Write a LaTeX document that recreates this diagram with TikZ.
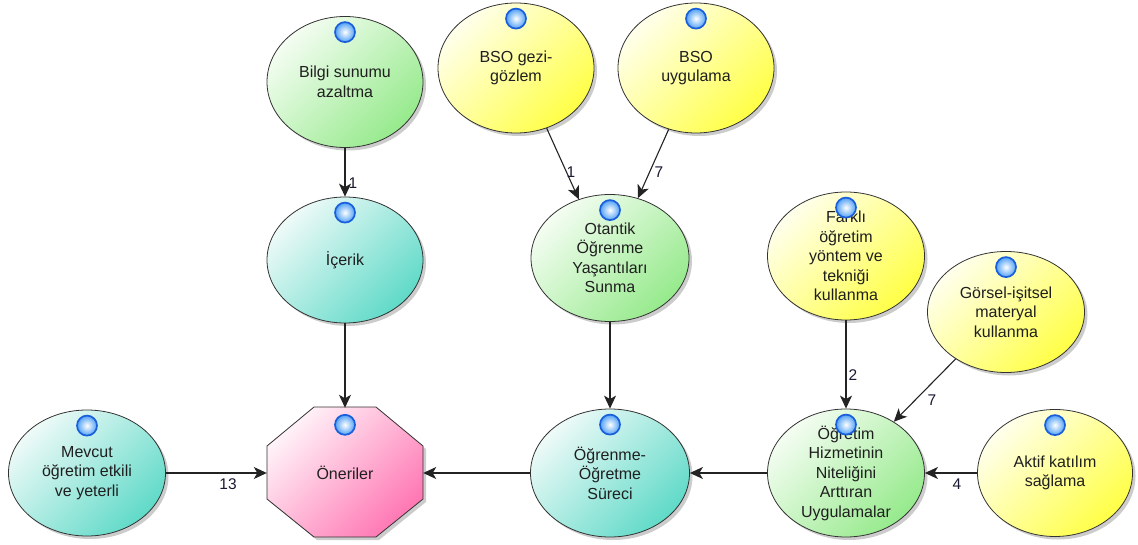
\documentclass[tikz,border=0pt]{standalone}
\usepackage{fontspec}
\setmainfont{Liberation Sans}
\usetikzlibrary{shapes.geometric,arrows.meta,shadows}

\definecolor{grnL}{RGB}{244,253,242}
\definecolor{grnD}{RGB}{150,234,140}
\definecolor{yelL}{RGB}{255,255,236}
\definecolor{yelD}{RGB}{255,255,70}
\definecolor{tealL}{RGB}{238,250,248}
\definecolor{tealD}{RGB}{96,218,200}
\definecolor{pinkL}{RGB}{255,242,248}
\definecolor{pinkD}{RGB}{255,120,180}
\definecolor{bulbD}{RGB}{25,95,220}
\definecolor{bulbM}{RGB}{80,160,245}
\definecolor{lblC}{RGB}{25,25,50}
\definecolor{lineC}{RGB}{35,35,35}

\begin{document}
\begin{tikzpicture}[x=1pt,y=-1pt,
  txt/.style={align=center, font=\fontsize{16}{19.5}\selectfont, text=black!88, inner sep=0pt},
  shad/.style={drop shadow={shadow xshift=3pt, shadow yshift=-3pt, opacity=0.2, fill=black}},
  bub/.style={ellipse, draw=black!80, line width=0.8pt, inner sep=0pt, shad,
     path picture={\node[txt] at (path picture bounding box.center) {#1};}},
  sz/.style 2 args={minimum width=#1pt, minimum height=#2pt},
  gfill/.style={top color=grnL, bottom color=grnD, shading angle=45},
  yfill/.style={top color=yelL, bottom color=yelD, shading angle=45},
  tfill/.style={top color=tealL, bottom color=tealD, shading angle=45},
  pfill/.style={top color=pinkL, bottom color=pinkD, shading angle=45},
  bulbst/.style={circle, minimum size=20pt, inner sep=0pt, draw=bulbD, line width=1.7pt,
     inner color=white, outer color=bulbM},
  conn/.style={draw=lineC, line width=1.1pt, -{Stealth[length=13pt,width=12pt,inset=3.5pt]}},
  lbl/.style={font=\fontsize{15.5}{18}\selectfont, text=lblC, inner sep=0pt}
]
\useasboundingbox[fill=white] (0,0) rectangle (1138,545);

% octagon outline behind the "Öneriler" node
\path[pfill, draw=black!80, line width=0.8pt, shad]
  (314,407) -- (376,407) -- (423,446) -- (423,499) -- (376,537)
  -- (314,537) -- (267,499) -- (267,446) -- cycle;
\node[txt, sz={156}{130}] (oneriler) at (345,473) {Öneriler};

% elliptic nodes
\node[bub={Bilgi sunumu\\azaltma}, gfill, sz={156}{131}] (bilgi) at (345,82) {};
\node[bub={İçerik}, tfill, sz={156}{126}] (icerik) at (345,260) {};
\node[bub={BSO gezi-\\gözlem}, yfill, sz={156}{130}] (bso1) at (516,68) {};
\node[bub={BSO\\uygulama}, yfill, sz={156}{130}] (bso2) at (696,68) {};
\node[bub={Otantik\\Öğrenme\\Yaşantıları\\Sunma}, gfill, sz={158}{127}] (otantik) at (610,258) {};
\node[bub={Farklı\\öğretim\\yöntem ve\\tekniği\\kullanma}, yfill, sz={157}{128}] (farkli) at (846,256) {};
\node[bub={Görsel-işitsel\\materyal\\kullanma}, yfill, sz={157}{121}] (gorsel) at (1006,312) {};
\node[bub={Mevcut\\öğretim etkili\\ve yeterli}, tfill, sz={157}{126}] (mevcut) at (87,473) {};
\node[bub={Öğrenme-\\Öğretme\\Süreci}, tfill, sz={159}{128}] (ogrenme) at (610,473) {};
\node[bub={Öğretim\\Hizmetinin\\Niteliğini\\Arttıran\\Uygulamalar}, gfill, sz={157}{128}] (ogretim) at (846,473) {};
\node[bub={Aktif katılım\\sağlama}, yfill, sz={155}{127}] (aktif) at (1055,473) {};

% markers on top of each node
\node[bulbst] (mb1) at ([yshift=-16pt]bilgi.north) {};
\node[bulbst] (mb2) at ([yshift=-16pt]icerik.north) {};
\node[bulbst] (mb3) at ([yshift=-16pt]bso1.north) {};
\node[bulbst] (mb4) at ([yshift=-16pt]bso2.north) {};
\node[bulbst] (mb5) at ([yshift=-16pt]otantik.north) {};
\node[bulbst] (mb6) at ([yshift=-16pt]farkli.north) {};
\node[bulbst] (mb7) at ([yshift=-16pt]gorsel.north) {};
\node[bulbst] (mb8) at ([yshift=-16pt]mevcut.north) {};
\node[bulbst] (mb9) at ([yshift=-17pt]oneriler.north) {};
\node[bulbst] (mb10) at ([yshift=-16pt]ogrenme.north) {};
\node[bulbst] (mb11) at ([yshift=-16pt]ogretim.north) {};
\node[bulbst] (mb12) at ([yshift=-16pt]aktif.north) {};

% connectors
\draw[conn] (bilgi) -- (icerik);
\draw[conn] (bso1.-63) -- (otantik.118);
\draw[conn] (bso2.-114) -- (otantik.65);
\draw[conn] (icerik) -- (oneriler);
\draw[conn] (otantik) -- (ogrenme);
\draw[conn] (farkli) -- (ogretim);
\draw[conn] (gorsel.223) -- (ogretim.47);
\draw[conn] (aktif) -- (ogretim);
\draw[conn] (ogretim) -- (ogrenme);
\draw[conn] (ogrenme) -- (oneriler);
\draw[conn] (mevcut) -- (oneriler);

% connector weights
\node[lbl] (w1) at (353,183) {1};
\node[lbl] (w2) at (571,172) {1};
\node[lbl] (w3) at (659,172) {7};
\node[lbl] (w4) at (853,375) {2};
\node[lbl] (w5) at (932,400) {7};
\node[lbl] (w6) at (957,484) {4};
\node[lbl] (w7) at (228,484) {13};
\end{tikzpicture}
\end{document}
